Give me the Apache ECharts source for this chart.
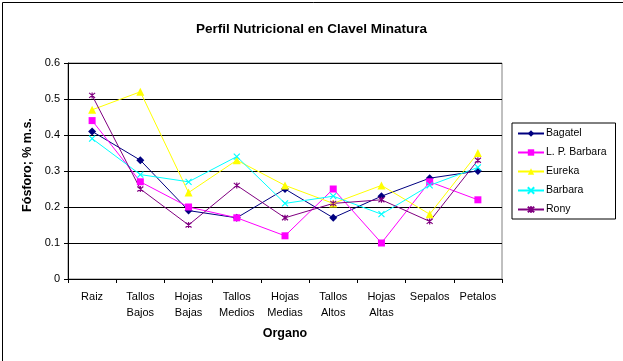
<!DOCTYPE html>
<html><head><meta charset="utf-8">
<script src="https://cdn.jsdelivr.net/npm/echarts@6/dist/echarts.min.js"></script>
<style>html,body{margin:0;padding:0;background:#fff}#c{width:623px;height:361px}</style>
</head><body><div id="c"></div>
<script>
const categories = ['Raiz','Tallos\nBajos','Hojas\nBajas','Tallos\nMedios','Hojas\nMedias','Tallos\nAltos','Hojas\nAltas','Sepalos','Petalos'];
const bagatel   = [0.41,0.33,0.19,0.17,0.25,0.17,0.23,0.28,0.30];
const lpBarbara = [0.44,0.27,0.20,0.17,0.12,0.25,0.10,0.27,0.22];
const eureka    = [0.47,0.52,0.24,0.33,0.26,0.21,0.26,0.18,0.35];
const barbara   = [0.39,0.29,0.27,0.34,0.21,0.23,0.18,0.26,0.31];
const rony      = [0.51,0.25,0.15,0.26,0.17,0.21,0.22,0.16,0.33];
const yTicks = [0,0.1,0.2,0.3,0.4,0.5,0.6];

const FONT = 'Liberation Sans';
const xSym = 'path://M0,0L10,10M10,0L0,10';
const starSym = 'path://M0,0L10,10M10,0L0,10M5,-1L5,11';
function ser(name, data, color, symbol, size, stroke) {
  return {
    name, type: 'line', data, symbol, symbolSize: size,
    lineStyle: { color, width: 1 },
    itemStyle: stroke ? { color: 'rgba(0,0,0,0)', borderColor: color, borderWidth: 1.2 } : { color, borderColor: color, borderWidth: 0 },
    emphasis: { disabled: true }, animation: false
  };
}
const chart = echarts.init(document.getElementById('c'), null, { renderer: 'canvas' });
chart.setOption({
  animation: false,
  backgroundColor: '#fff',
  title: { text: 'Perfil Nutricional en Clavel Minatura', left: 'center', top: 17,
    textStyle: { fontFamily: FONT, fontSize: 13.5, fontWeight: 'bold', color: '#000' } },
  grid: { left: 68, right: 121, top: 63, bottom: 82, show: true, borderColor: '#808080', borderWidth: 1, backgroundColor: 'rgba(0,0,0,0)' },
  legend: {
    orient: 'vertical', left: 512, top: 123,
    padding: [5, 9, 4, 5], itemGap: 8, itemWidth: 26, itemHeight: 8,
    borderColor: '#000', borderWidth: 1,
    textStyle: { fontFamily: FONT, fontSize: 10.5, color: '#000', padding: [0,0,0,-3] },
    data: ['Bagatel','L. P. Barbara','Eureka','Barbara','Rony']
  },
  xAxis: {
    type: 'category', data: categories, boundaryGap: true,
    name: 'Organo', nameLocation: 'middle', nameGap: 48,
    nameTextStyle: { fontFamily: FONT, fontSize: 12.5, fontWeight: 'bold', color: '#000' },
    axisLine: { lineStyle: { color: '#000', width: 1 } },
    axisTick: { show: true, length: 4, lineStyle: { color: '#000' }, alignWithLabel: false },
    axisLabel: { fontFamily: FONT, fontSize: 11, color: '#000', margin: 10, lineHeight: 16, interval: 0 },
    splitLine: { show: false }
  },
  yAxis: {
    type: 'value', min: 0, max: 0.6, interval: 0.1,
    name: 'Fósforo; % m.s.', nameLocation: 'middle', nameGap: 33,
    nameTextStyle: { fontFamily: FONT, fontSize: 12.5, fontWeight: 'bold', color: '#000', padding: [0,0,0,12] },
    axisLine: { show: true, lineStyle: { color: '#000', width: 1 } },
    axisTick: { show: true, length: 4, lineStyle: { color: '#000' } },
    axisLabel: { fontFamily: FONT, fontSize: 11, color: '#000', margin: 8,
      formatter: v => { const t = yTicks.find(x => Math.abs(x - v) < 1e-9); return t === undefined ? '' : String(t); } },
    splitLine: { show: true, lineStyle: { color: '#000', width: 1 } }
  },
  series: [
    ser('Bagatel', bagatel, '#000080', 'diamond', 8, false),
    ser('L. P. Barbara', lpBarbara, '#FF00FF', 'rect', 7, false),
    ser('Eureka', eureka, '#FFFF00', 'triangle', 8, false),
    ser('Barbara', barbara, '#00FFFF', xSym, 6, true),
    ser('Rony', rony, '#800080', starSym, 6, true)
  ],
  graphic: [{ type: 'rect', left: 0, top: 0, shape: { width: 622, height: 360 }, style: { fill: 'none', stroke: '#000', lineWidth: 1 }, silent: true }]
});
</script></body></html>
